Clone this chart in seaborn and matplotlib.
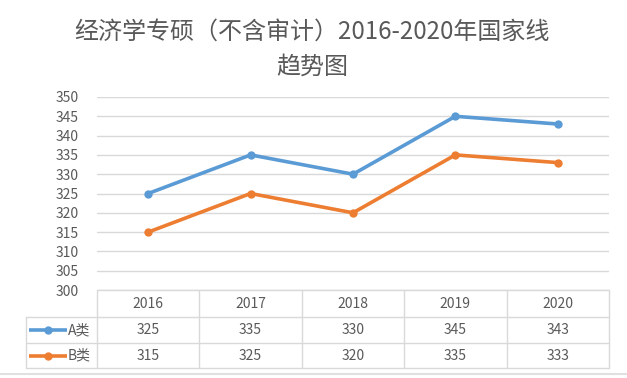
import matplotlib
matplotlib.use("Agg")
import matplotlib.pyplot as plt
import seaborn as sns
import pandas as pd

years = ["2016", "2017", "2018", "2019", "2020"]
a_scores = [325, 335, 330, 345, 343]
b_scores = [315, 325, 320, 335, 333]
series_names = ["A类", "B类"]
title = "经济学专硕（不含审计）2016-2020年国家线\n趋势图"

sns.set_theme(style="white")
plt.rcParams["font.family"] = ["Noto Sans CJK SC", "DejaVu Sans"]

df = pd.DataFrame({
    "year": years * 2,
    "score": a_scores + b_scores,
    "type": [series_names[0]] * 5 + [series_names[1]] * 5,
})
df["x"] = list(range(len(years))) * 2

colors = {"A类": "#5B9BD5", "B类": "#ED7D31"}
text_c = "#595959"
grid_c = "#D9D9D9"

fig = plt.figure(figsize=(6.27, 3.78), dpi=100)
W, H = 627, 378
ax = fig.add_axes([97 / W, 1 - 290 / H, 512 / W, 193 / H])

sns.lineplot(data=df, x="x", y="score", hue="type", palette=colors,
             marker="o", markersize=6, markeredgewidth=0, linewidth=2.6,
             legend=False, ax=ax)

ax.set_xlim(-0.5, len(years) - 0.5)
ax.set_ylim(300, 350)
ax.set_yticks(range(300, 351, 5))
ax.set_xticks([])
ax.set_xlabel("")
ax.set_ylabel("")
ax.tick_params(axis="y", length=0, pad=13, labelsize=10, labelcolor=text_c)
ax.grid(axis="y", color=grid_c, linewidth=1)
for s in ax.spines.values():
    s.set_visible(False)

# data table below the plot
tr = ax.get_xaxis_transform()
line_kw = dict(color=grid_c, linewidth=1, clip_on=False, transform=tr)
y_top, y_h, y_a, y_b = 0.0, -0.140, -0.275, -0.404
x_lo = -0.5
x_hi = len(years) - 0.5
x_leg = -1.193
ax.plot([x_lo, x_hi], [y_top, y_top], **line_kw)
ax.plot([x_leg, x_hi], [y_h, y_h], **line_kw)
ax.plot([x_leg, x_hi], [y_a, y_a], **line_kw)
ax.plot([x_leg, x_hi], [y_b, y_b], **line_kw)
ax.plot([x_leg, x_leg], [y_h, y_b], **line_kw)
for i in range(len(years) + 1):
    ax.plot([i - 0.5, i - 0.5], [y_top, y_b], **line_kw)

for i, yr in enumerate(years):
    ax.text(i, (y_top + y_h) / 2, yr, ha="center", va="center",
            fontsize=10, color=text_c, transform=tr)
    ax.text(i, (y_h + y_a) / 2, str(a_scores[i]), ha="center", va="center",
            fontsize=10, color=text_c, transform=tr)
    ax.text(i, (y_a + y_b) / 2, str(b_scores[i]), ha="center", va="center",
            fontsize=10, color=text_c, transform=tr)

# legend keys in the row headers
for name, yc in zip(series_names, [(y_h + y_a) / 2, (y_a + y_b) / 2]):
    ax.plot([-1.164, -0.793], [yc, yc], color=colors[name], linewidth=2.6,
            solid_capstyle="butt", transform=tr, clip_on=False)
    ax.plot([-0.979], [yc], marker="o", color=colors[name], markersize=5,
            transform=tr, clip_on=False)
    ax.text(-0.785, yc, name, ha="left", va="center",
            fontsize=10, color=text_c, transform=tr)

fig.text(312 / W, 1 - 49 / H, title, ha="center", va="center", fontsize=17.3,
         color=text_c, linespacing=1.45)
fig.add_artist(plt.Line2D([0, 1], [1 - 374 / H, 1 - 374 / H], color="#E0E0E0",
                          linewidth=1.5, transform=fig.transFigure))

fig.savefig("out.png", dpi=100, facecolor="white")
